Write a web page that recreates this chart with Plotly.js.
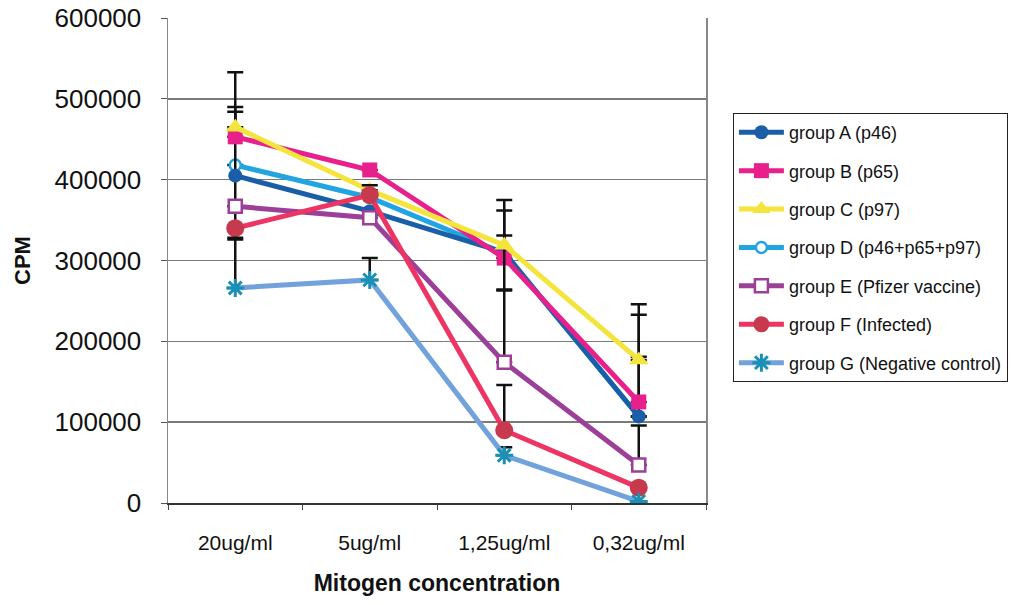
<!DOCTYPE html>
<html>
<head>
<meta charset="utf-8">
<script src="https://cdn.plot.ly/plotly-3.0.1.min.js"></script>
<style>html,body{margin:0;padding:0;background:#fff;}#chart{width:1021px;height:605px;}</style>
</head>
<body>
<div id="chart"></div>
<script>
const categories = ["20ug/ml", "5ug/ml", "1,25ug/ml", "0,32ug/ml"];
const groupNames = ["group A (p46)", "group B (p65)", "group C (p97)", "group D (p46+p65+p97)", "group E (Pfizer vaccine)", "group F (Infected)", "group G (Negative control)"];

const groupA = [405000, 361000, 310000, 107000];
const groupB = [453000, 412000, 303000, 125000];
const groupC = [465000, 387000, 319000, 177000];
const groupD = [418000, 378000, 309000, 107000];
const groupE = [367000, 353000, 174000, 47000];
const groupF = [340000, 381000, 90000, 19000];
const groupG = [266000, 276000, 59000, 2000];

const errPlusA = [79000, 0, 21000, 126000];
const errMinusA = [79000, 0, 0, 0];
const errPlusB = [37000, 0, 59000, 121000];
const errMinusB = [0, 0, 0, 0];
const errPlusC = [68000, 0, 56000, 4000];
const errMinusC = [0, 0, 56000, 0];
const errPlusD = [0, 0, 0, 0];
const errMinusD = [0, 0, 0, 0];
const errPlusE = [0, 0, 90000, 49000];
const errMinusE = [0, 0, 0, 0];
const errPlusF = [0, 12000, 56000, 0];
const errMinusF = [0, 0, 0, 0];
const errPlusG = [62000, 27000, 10000, 0];
const errMinusG = [0, 0, 0, 0];

const values = [groupA, groupB, groupC, groupD, groupE, groupF, groupG];
const errPlus = [errPlusA, errPlusB, errPlusC, errPlusD, errPlusE, errPlusF, errPlusG];
const errMinus = [errMinusA, errMinusB, errMinusC, errMinusD, errMinusE, errMinusF, errMinusG];

const lineColors = ["#1b5ea8", "#e8208c", "#f4e43c", "#20a4e2", "#9b3f98", "#ee3463", "#72a2dc"];
const markerFill = ["#1b5ea8", "#e8208c", "#f4e43c", "#ffffff", "#ffffff", "#c73a4e", "#1a90b4"];
const markerLine = ["#1b5ea8", "#e8208c", "#f4e43c", "#20a4e2", "#9b3f98", "#c73a4e", "#1a90b4"];
const symbols = ["circle", "square", "triangle-up", "circle", "square", "circle", "asterisk-open"];
const sizes = [14, 15, 17, 11, 13, 18, 15];
const mlw = [0, 0, 0, 2.5, 2.5, 0, 3];
const drawOrder = [3, 0, 1, 2, 4, 5, 6];

const traces = drawOrder.map(i => ({
  type: "scatter",
  mode: "lines+markers",
  name: groupNames[i],
  legendgroup: "g" + i,
  legendrank: i + 1,
  x: categories,
  y: values[i],
  line: {color: lineColors[i], width: 5},
  marker: {symbol: symbols[i], size: sizes[i], color: markerFill[i], line: {color: markerLine[i], width: mlw[i]}},
  error_y: {type: "data", symmetric: false, array: errPlus[i], arrayminus: errMinus[i], color: "#111", thickness: 2.5, width: 8}
}));

const layout = {
  width: 1021, height: 605,
  margin: {l: 168, r: 315, t: 18, b: 102},
  paper_bgcolor: "#ffffff", plot_bgcolor: "#ffffff",
  font: {family: "Arial, 'Liberation Sans', sans-serif", color: "#111"},
  showlegend: true,
  legend: {
    x: 1.05, y: 0.804, xanchor: "left", yanchor: "top",
    bordercolor: "#222", borderwidth: 1, bgcolor: "#ffffff",
    font: {size: 18, color: "#111"},
    itemwidth: 45,
    traceorder: "grouped", tracegroupgap: 12
  },
  xaxis: {
    type: "category",
    range: [-0.5, 3.5],
    tickson: "boundaries",
    ticks: "outside", ticklen: 5, tickcolor: "#444",
    showline: true, linecolor: "#333", linewidth: 2, mirror: false,
    showgrid: false, zeroline: false,
    tickfont: {size: 21, color: "#111"},
    ticklabelstandoff: 20,
    title: {text: "<b>Mitogen concentration</b>", font: {size: 23, color: "#111"}, standoff: 22}
  },
  yaxis: {
    range: [0, 600000],
    dtick: 100000,
    tickformat: "d",
    ticks: "outside", ticklen: 6, tickcolor: "#555",
    showline: true, linecolor: "#888", linewidth: 1.5, mirror: true,
    showgrid: true, gridcolor: "#7a7a7a", gridwidth: 1.5, zeroline: false,
    tickfont: {size: 26, color: "#111"},
    ticklabelstandoff: 14,
    title: {text: "<b>CPM</b>", font: {size: 22, color: "#111"}, standoff: 18}
  }
};

Plotly.newPlot("chart", traces, layout, {displayModeBar: false, staticPlot: true});
</script>
</body>
</html>
